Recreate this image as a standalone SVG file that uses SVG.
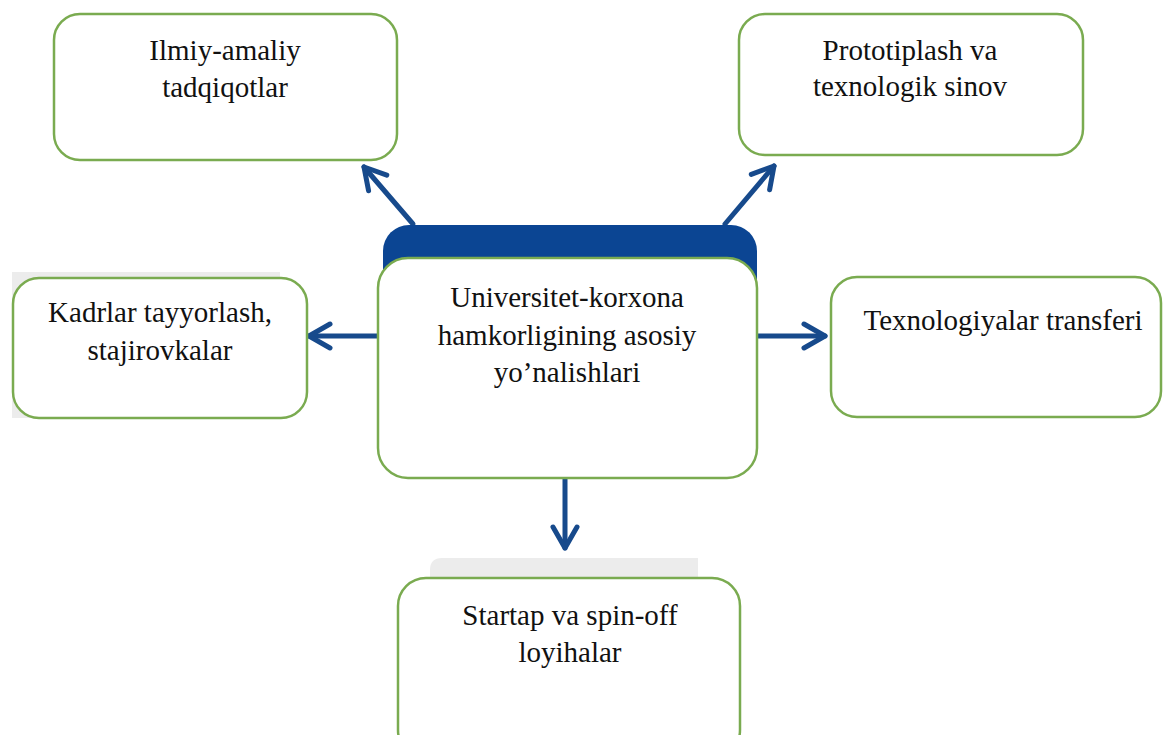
<svg xmlns="http://www.w3.org/2000/svg" width="1163" height="735" viewBox="0 0 1163 735">
  <style>
    .box { fill: #ffffff; stroke: #7aab50; stroke-width: 2.5; }
    .lbl { font-family: "Liberation Serif", "Times New Roman", serif; font-size: 29px; fill: #111111; text-anchor: middle; }
    .conn { stroke: #174a8c; stroke-width: 5; fill: none; stroke-linecap: round; }
    .shadow { fill: #ececec; }
  </style>
  <defs>
    <marker id="chev" markerUnits="userSpaceOnUse" viewBox="-26 -16 30 32" markerWidth="30" markerHeight="32" refX="0" refY="0" orient="auto">
      <path d="M -21 -12 L 0 0 L -21 12" fill="none" stroke="#174a8c" stroke-width="5" stroke-linecap="round" stroke-linejoin="round"/>
    </marker>
  </defs>
  <rect width="1163" height="735" fill="#ffffff"/>

  <!-- background shadows -->
  <rect class="shadow" x="12" y="272" width="268" height="146"/>
  <path class="shadow" d="M 430 578 L 430 570 Q 430 558 442 558 L 698 558 L 698 578 Z"/>

  <!-- connectors -->
  <g id="connectors">
    <line class="conn" x1="413" y1="224" x2="364" y2="167" marker-end="url(#chev)"/>
    <line class="conn" x1="725" y1="224" x2="774" y2="166" marker-end="url(#chev)"/>
    <line class="conn" x1="378" y1="336" x2="309" y2="336" marker-end="url(#chev)"/>
    <line class="conn" x1="757" y1="336" x2="825" y2="336" marker-end="url(#chev)"/>
    <line class="conn" x1="565" y1="478" x2="565" y2="548" marker-end="url(#chev)"/>
  </g>

  <g id="node-top-left">
    <rect class="box" x="54" y="14" width="343" height="146" rx="26"/>
    <text class="lbl" x="225" y="60">Ilmiy-amaliy</text>
    <text class="lbl" x="225" y="97">tadqiqotlar</text>
  </g>

  <g id="node-top-right">
    <rect class="box" x="739" y="14" width="344" height="141" rx="26"/>
    <text class="lbl" x="910" y="60">Prototiplash va</text>
    <text class="lbl" x="910" y="96">texnologik sinov</text>
  </g>

  <g id="node-left">
    <rect class="box" x="13" y="278" width="294" height="140" rx="26"/>
    <text class="lbl" x="160" y="322">Kadrlar tayyorlash,</text>
    <text class="lbl" x="160" y="360">stajirovkalar</text>
  </g>

  <g id="node-right">
    <rect class="box" x="831" y="277" width="330" height="140" rx="26"/>
    <text class="lbl" x="1003" y="330">Texnologiyalar transferi</text>
  </g>

  <g id="node-center">
    <rect x="383" y="225" width="374" height="160" rx="26" fill="#0b4593"/>
    <rect class="box" x="378" y="258" width="379" height="220" rx="30"/>
    <text class="lbl" x="567" y="307">Universitet-korxona</text>
    <text class="lbl" x="567" y="345">hamkorligining asosiy</text>
    <text class="lbl" x="567" y="382">yo’nalishlari</text>
  </g>

  <g id="node-bottom">
    <rect class="box" x="398" y="578" width="342" height="180" rx="28"/>
    <text class="lbl" x="570" y="625">Startap va spin-off</text>
    <text class="lbl" x="570" y="662">loyihalar</text>
  </g>
</svg>
